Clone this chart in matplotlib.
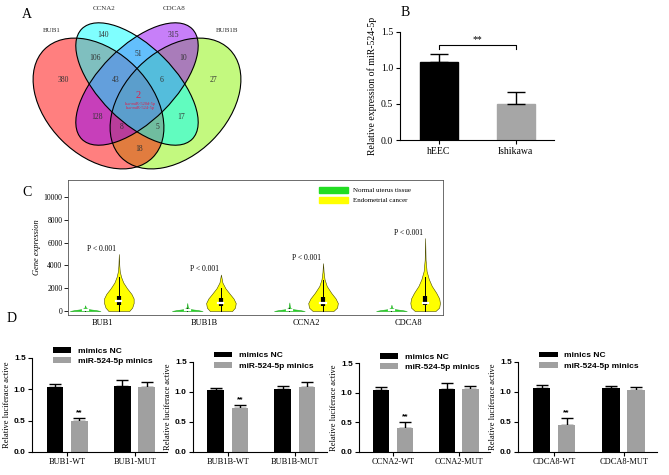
import numpy as np
import matplotlib
matplotlib.use("Agg")
import matplotlib.pyplot as plt
from matplotlib.patches import Ellipse, Patch

W, H = 669, 475
plt.rcParams['font.family'] = ['Liberation Serif', 'DejaVu Serif']
plt.rcParams['axes.linewidth'] = 0.8

# ---------------- data ----------------
# panel A: venn counts (order of sets: BUB1, CCNA2, CDCA8, BUB1B)
venn_names = ["BUB1", "CCNA2", "CDCA8", "BUB1B"]
venn_keys = ["1000", "0100", "0010", "0001", "1100", "0110", "0011", "1110",
             "0111", "1111", "1010", "0101", "1011", "1101", "1001"]
venn_counts = [380, 140, 315, 27, 106, 51, 10, 43, 6, 2, 128, 17, 8, 5, 18]
venn_core = ["hsa-miR-520d-5p", "hsa-miR-524-5p"]

# panel B
b_groups = ["hEEC", "Ishikawa"]
b_means = [1.08, 0.50]
b_err = [0.11, 0.17]

# panel C
c_genes = ["BUB1", "BUB1B", "CCNA2", "CDCA8"]
c_pvals = ["P < 0.001"] * 4
# yellow (tumour) violin outlines: value levels and relative half widths
y_vals = [
    [0, 300, 700, 1100, 1500, 2000, 2500, 3000, 3500, 4000, 5000],
    [0, 300, 700, 1100, 1500, 2000, 2500, 3200],
    [0, 300, 700, 1100, 1600, 2200, 2800, 3400, 4200],
    [0, 300, 700, 1100, 1600, 2200, 2800, 3500, 4500, 6400],
]
y_wid = [
    [0.7, 0.9, 1.0, 1.0, 0.85, 0.55, 0.3, 0.15, 0.06, 0.03, 0.0],
    [0.75, 0.95, 1.0, 0.85, 0.6, 0.3, 0.1, 0.0],
    [0.7, 0.95, 1.0, 0.85, 0.55, 0.25, 0.1, 0.04, 0.0],
    [0.7, 0.95, 1.0, 0.95, 0.75, 0.45, 0.25, 0.1, 0.03, 0.0],
]
g_vals = [
    [0, 80, 160, 250, 350, 500],
    [0, 80, 160, 250, 400, 700],
    [0, 80, 160, 250, 400, 750],
    [0, 80, 160, 250, 350, 550],
]
g_wid = [
    [1.0, 0.7, 0.25, 0.08, 0.03, 0.0],
    [1.0, 0.7, 0.25, 0.08, 0.03, 0.0],
    [1.0, 0.7, 0.25, 0.08, 0.03, 0.0],
    [1.0, 0.7, 0.25, 0.08, 0.03, 0.0],
]
# box stats (whisker low, q1, median, q3, whisker high)
y_box = [[0, 500, 900, 1300, 3000], [0, 450, 700, 1100, 2000],
         [0, 400, 700, 1200, 2700], [0, 500, 700, 1300, 3000]]
g_box = [[0, 40, 70, 110, 220], [0, 40, 80, 120, 250],
         [0, 40, 80, 120, 260], [0, 40, 70, 110, 220]]

# panel D
d_genes = ["BUB1", "BUB1B", "CCNA2", "CDCA8"]
d_nc_label = ["mimics NC", "mimics NC", "mimics NC", "minics NC"]
nc_wt = [1.03, 1.03, 1.04, 1.06]
nc_wt_err = [0.06, 0.04, 0.06, 0.05]
mi_wt = [0.50, 0.73, 0.40, 0.45]
mi_wt_err = [0.04, 0.06, 0.10, 0.11]
nc_mut = [1.06, 1.05, 1.07, 1.06]
nc_mut_err = [0.09, 0.05, 0.09, 0.04]
mi_mut = [1.04, 1.09, 1.07, 1.03]
mi_mut_err = [0.08, 0.08, 0.04, 0.06]


def frect(l, t, r, b):
    return [l / W, 1 - b / H, (r - l) / W, (b - t) / H]


fig = plt.figure(figsize=(W / 100, H / 100), dpi=100)

# ---------------- panel A (venn, pixel coords) ----------------
axA = fig.add_axes([0, 0, 1, 1])
axA.set_xlim(0, W)
axA.set_ylim(H, 0)
axA.axis("off")

mid = 137.0
# centre, full major, full minor, angle, colour, draw order
ell = [((mid - 38.5, 103.5), 153, 104, 45, "#ff0000", 2),
       ((mid, 84.0), 156, 75, 45, "#00ffff", 4),
       ((mid, 84.0), 156, 75, -45, "#9100f5", 3),
       ((mid + 38.5, 103.5), 153, 104, -45, "#88f500", 1)]
for (cx, cy), ew, eh, ang, col, z in ell:
    axA.add_patch(Ellipse((cx, cy), ew, eh, angle=ang,
                          facecolor=col, alpha=0.5, edgecolor="none", zorder=z))
for (cx, cy), ew, eh, ang, col, z in ell:
    axA.add_patch(Ellipse((cx, cy), ew, eh, angle=ang,
                          facecolor="none", edgecolor="black", lw=0.8, zorder=6))

venn_pos = [(63, 80), (103, 35), (173, 35), (213, 80), (95, 58), (138, 54),
            (183, 58), (116, 80), (162, 80), (138, 96), (97, 117), (181, 117),
            (122, 127), (157, 127), (139, 149)]
for k, n, (px, py) in zip(venn_keys, venn_counts, venn_pos):
    if k == "1111":
        axA.text(px, py, str(n), color="#e0204a", fontsize=7.5, ha="center", va="center", zorder=7)
    else:
        axA.text(px, py, str(n), color="#333333", fontsize=5.5, ha="center", va="center", zorder=7)
axA.text(140, 104, venn_core[0], color="#e0204a", fontsize=3.2, ha="center", va="center", zorder=7)
axA.text(140, 108.5, venn_core[1], color="#e0204a", fontsize=3.2, ha="center", va="center", zorder=7)
for name, (px, py) in zip(venn_names, [(52, 31), (104, 9), (174, 9), (227, 31)]):
    axA.text(px, py, name, fontsize=5, ha="center", va="center", color="#333333")

for lab, (px, py) in zip("ABCD", [(27, 15), (405, 12), (27, 193), (12, 318)]):
    axA.text(px, py, lab, fontsize=10, ha="center", va="center")

# ---------------- panel B ----------------
axB = fig.add_axes(frect(400, 31.7, 554, 140))
xb = np.arange(len(b_groups))
axB.bar(xb, b_means, width=0.5, color=["black", "#a6a6a6"], edgecolor=["black", "#a6a6a6"], zorder=2)
axB.errorbar(xb, b_means, yerr=[np.zeros(2), b_err], fmt="none", ecolor="black",
             elinewidth=1.0, capsize=6.5, capthick=1.0, zorder=3)
axB.plot([0, 0, 1, 1], [1.26, 1.31, 1.31, 1.26], color="black", lw=0.8)
axB.text(0.5, 1.33, "**", ha="center", va="bottom", fontsize=7)
axB.set_xlim(-0.51, 1.5)
axB.set_ylim(0, 1.5)
axB.set_xticks(xb)
axB.set_xticklabels(b_groups, fontsize=7)
axB.set_yticks([0, 0.5, 1.0, 1.5])
axB.set_yticklabels(["0.0", "0.5", "1.0", "1.5"], fontsize=7)
axB.set_ylabel("Relative expression of miR-524-5p", fontsize=7, labelpad=3)
axB.spines[["top", "right"]].set_visible(False)
axB.tick_params(direction="out", length=3, width=0.8, pad=2)

# ---------------- panel C ----------------
axC = fig.add_axes(frect(68, 180, 443, 315))
off = 0.165
for i in range(len(c_genes)):
    for cen, vals, wid, box, fc, ec, mw in [
            (i - off, g_vals[i], g_wid[i], g_box[i], "#22dd22", "#22aa22", 0.15),
            (i + off, y_vals[i], y_wid[i], y_box[i], "#ffff00", "#444400", 0.145)]:
        w = np.array(wid) * mw
        axC.fill_betweenx(vals, cen - w, cen + w, facecolor=fc, edgecolor=ec, lw=0.4, zorder=2)
        axC.plot([cen, cen], [box[0], box[4]], color="black", lw=0.7, zorder=3)
        axC.plot([cen, cen], [box[1], box[3]], color="black", lw=3.0, solid_capstyle="butt", zorder=3)
        axC.plot([cen - 0.025, cen + 0.025], [box[2], box[2]], color="white", lw=1.6, zorder=4)
    axC.text(i, y_vals[i][-1] + 120, c_pvals[i], ha="center", va="bottom", fontsize=5.5)
axC.set_xlim(-0.333, 3.34)
axC.set_ylim(-350, 11500)
axC.set_xticks(range(len(c_genes)))
axC.set_xticklabels(c_genes, fontsize=6)
axC.set_yticks(range(0, 10001, 2000))
axC.set_yticklabels([str(v) for v in range(0, 10001, 2000)], fontsize=5.5)
axC.set_ylabel("Gene expression", fontsize=6, style="italic", labelpad=2)
axC.tick_params(axis="y", direction="out", length=3, width=0.6, pad=1)
axC.tick_params(axis="x", length=0, pad=3)
for s in axC.spines.values():
    s.set_linewidth(0.6)
    s.set_color("#555555")
axC.legend(handles=[Patch(color="#22dd22", label="Normal uterus tissue"),
                    Patch(color="#ffff00", label="Endometrial cancer")],
           loc="upper right", bbox_to_anchor=(0.93, 0.99), frameon=False, fontsize=5,
           handlelength=4.2, handleheight=1.0, labelspacing=0.45, handletextpad=0.7,
           borderpad=0.3)

# ---------------- panel D ----------------
d_rects = [(32, 358, 167, 452), (193, 362, 327, 452), (359, 363, 490, 452), (518, 362, 657, 452)]
sans = "Liberation Sans"
for i, g in enumerate(d_genes):
    ax = fig.add_axes(frect(*d_rects[i]))
    xg = np.arange(2)
    nc = [nc_wt[i], nc_mut[i]]
    nce = [nc_wt_err[i], nc_mut_err[i]]
    mi = [mi_wt[i], mi_mut[i]]
    mie = [mi_wt_err[i], mi_mut_err[i]]
    ax.bar(xg - 0.18, nc, width=0.25, color="black", label=d_nc_label[i], zorder=2)
    ax.bar(xg + 0.18, mi, width=0.25, color="#a0a0a0", label="miR-524-5p minics", zorder=2)
    ax.errorbar(xg - 0.18, nc, yerr=[np.zeros(2), nce], fmt="none", ecolor="black",
                elinewidth=1.0, capsize=4.5, capthick=1.0, zorder=1)
    ax.errorbar(xg + 0.18, mi, yerr=[np.zeros(2), mie], fmt="none", ecolor="black",
                elinewidth=1.0, capsize=4.5, capthick=1.0, zorder=1)
    ax.text(0.18, mi_wt[i] + mi_wt_err[i] + 0.03, "**", ha="center", va="bottom",
            fontsize=6, fontfamily=sans, fontweight="bold")
    ax.set_xlim(-0.52, 1.48)
    ax.set_ylim(0, 1.5)
    ax.set_xticks(xg)
    ax.set_xticklabels([g + "-WT", g + "-MUT"], fontsize=6)
    ax.set_yticks([0, 0.5, 1.0, 1.5])
    ax.set_yticklabels(["0.0", "0.5", "1.0", "1.5"], fontsize=6, fontfamily=sans, fontweight="bold")
    ax.set_ylabel("Relative luciferace active", fontsize=6, labelpad=2)
    ax.spines[["top", "right"]].set_visible(False)
    ax.tick_params(direction="out", length=3, width=0.8, pad=1.5)
    ax.legend(loc="upper left", bbox_to_anchor=(0.1, 1.2), frameon=False,
              handlelength=2.2, handleheight=0.7, labelspacing=0.35, handletextpad=0.8,
              prop={"family": sans, "weight": "bold", "size": 6})

fig.savefig("out.png", dpi=100)
